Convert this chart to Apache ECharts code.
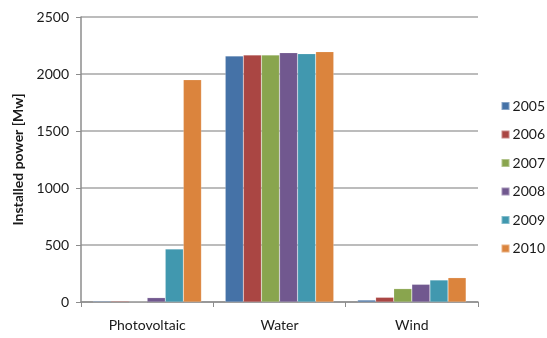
<!DOCTYPE html>
<html>
<head>
<meta charset="utf-8">
<script src="https://cdn.jsdelivr.net/npm/echarts@6/dist/echarts.min.js"></script>
<style>
  html, body { margin: 0; padding: 0; background: #fff; }
  #chart { width: 547px; height: 338px; }
</style>
</head>
<body>
<div id="chart"></div>
<script>
// Installed power by source and year
const categories = ['Photovoltaic', 'Water', 'Wind'];
const years = ['2005', '2006', '2007', '2008', '2009', '2010'];
const values2005 = [8, 2158, 17];
const values2006 = [8, 2167, 41];
const values2007 = [2, 2167, 117];
const values2008 = [38, 2187, 155];
const values2009 = [465, 2178, 193];
const values2010 = [1950, 2196, 213];
const yTicks = [0, 500, 1000, 1500, 2000, 2500];

const seriesValues = [values2005, values2006, values2007, values2008, values2009, values2010];
const colors = ['#4572A7', '#AA4643', '#89A54E', '#71588F', '#4198AF', '#DB843D'];
const font = 'Lato, "Liberation Sans", sans-serif';

const chart = echarts.init(document.getElementById('chart'), null, { renderer: 'canvas' });
chart.setOption({
  animation: false,
  color: colors,
  textStyle: { fontFamily: font },
  grid: { left: 81, right: 69, top: 17, bottom: 36, containLabel: false },
  legend: {
    orient: 'vertical',
    right: 2,
    top: 99,
    padding: 0,
    itemWidth: 8,
    itemHeight: 8,
    itemGap: 14.5,
    icon: 'rect',
    textStyle: { fontSize: 14, color: '#1a1a1a', fontFamily: font, padding: [0, 0, 0, -2] },
    data: years
  },
  xAxis: {
    type: 'category',
    data: categories,
    axisLine: { lineStyle: { color: '#8c8c8c', width: 1.5 } },
    axisTick: { show: true, length: 5, lineStyle: { color: '#8c8c8c' } },
    axisLabel: { color: '#1a1a1a', fontSize: 14, margin: 16, fontFamily: font }
  },
  yAxis: {
    type: 'value',
    min: yTicks[0],
    max: yTicks[yTicks.length - 1],
    interval: yTicks[1] - yTicks[0],
    name: 'Installed power [Mw]',
    nameLocation: 'middle',
    nameGap: 56,
    nameTextStyle: { fontWeight: 'bold', fontSize: 14, color: '#1a1a1a', fontFamily: font },
    axisLine: { show: true, lineStyle: { color: '#8c8c8c', width: 1.5 } },
    axisTick: { show: true, length: 5, lineStyle: { color: '#8c8c8c' } },
    axisLabel: { color: '#1a1a1a', fontSize: 14, margin: 12, fontFamily: font, formatter: v => String(v) },
    splitLine: { lineStyle: { color: '#a6a6a6', width: 1.5 } }
  },
  series: years.map((y, i) => ({
    name: y,
    type: 'bar',
    data: seriesValues[i],
    barGap: '0%',
    barCategoryGap: '18%',
    itemStyle: { color: colors[i], borderColor: 'rgba(255,255,255,0.35)', borderWidth: 0.5 }
  }))
});
</script>
</body>
</html>
